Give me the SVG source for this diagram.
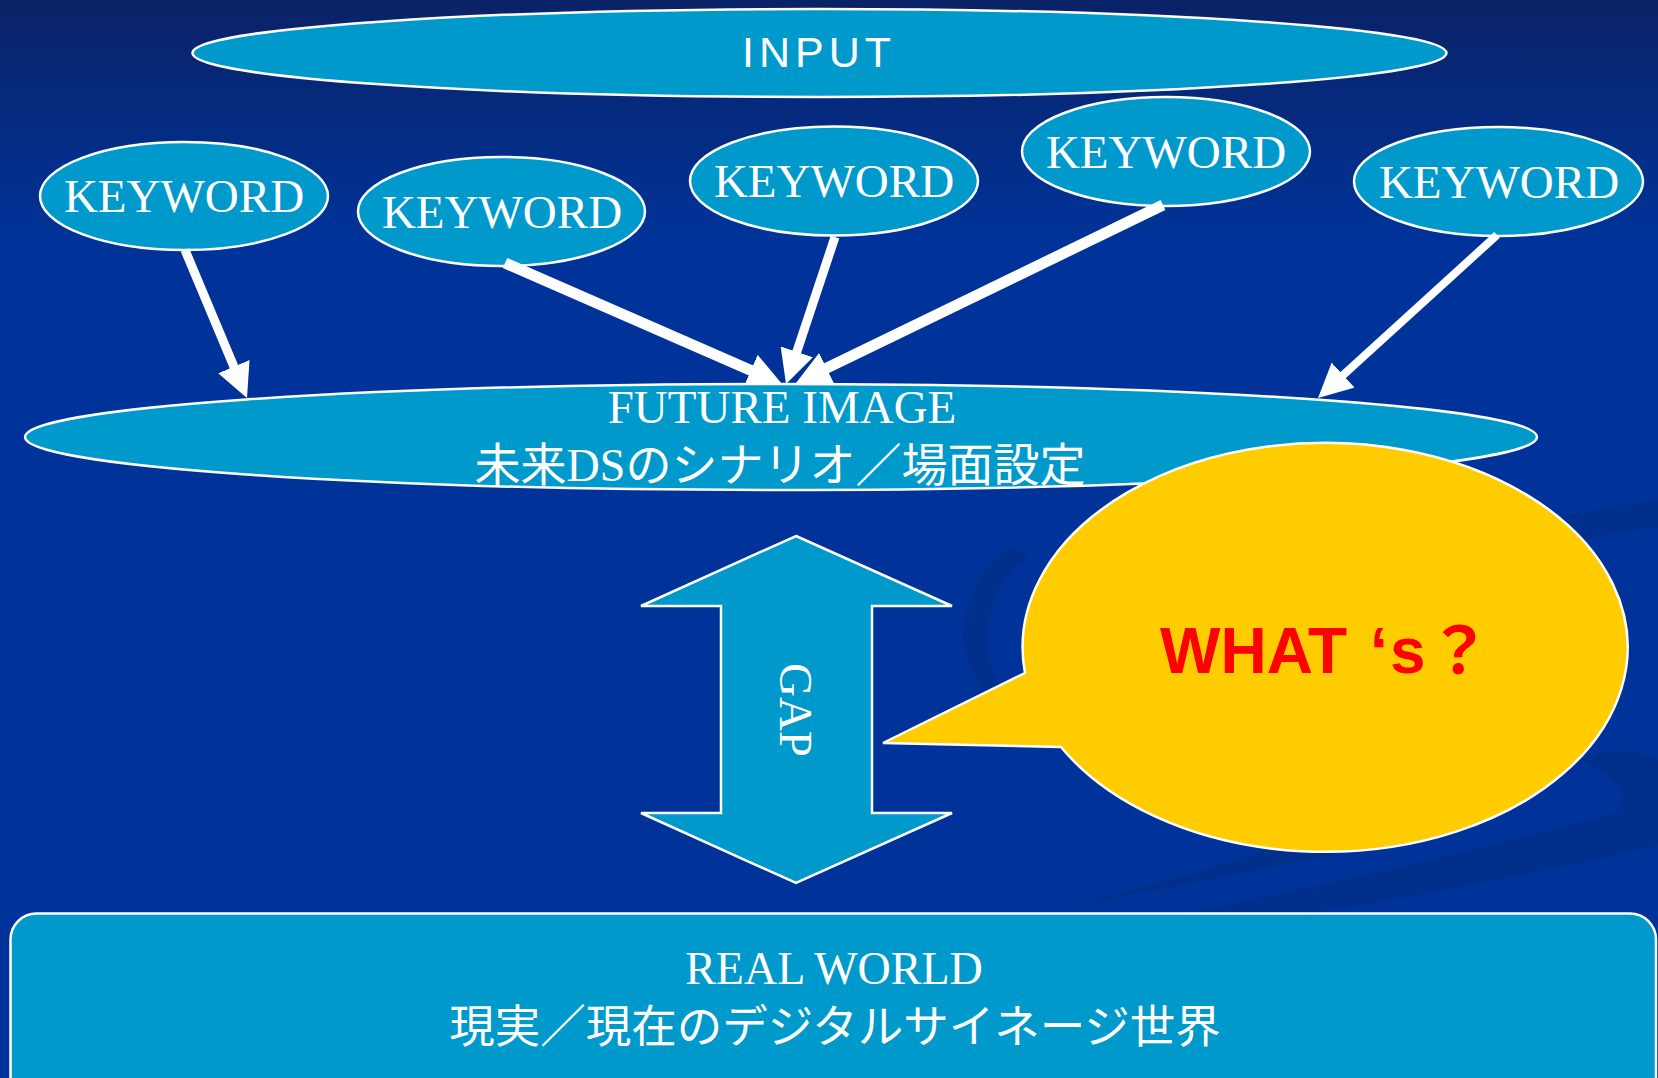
<svg xmlns="http://www.w3.org/2000/svg" width="1658" height="1078" viewBox="0 0 1658 1078">
  <defs>
    <linearGradient id="bg" x1="0" y1="0" x2="0" y2="1">
      <stop offset="0" stop-color="#0a2266"/>
      <stop offset="0.22" stop-color="#003399"/>
      <stop offset="1" stop-color="#003399"/>
    </linearGradient>
    <marker id="head" viewBox="0 0 34 34" markerWidth="34" markerHeight="34" refX="4" refY="17" orient="auto" markerUnits="userSpaceOnUse">
      <path d="M0,0 L34,17 L0,34 Z" fill="#ffffff"/>
    </marker>
    <style>
      .node { fill: #0099cc; stroke: #ffffff; stroke-width: 2.5; }
      .serif { font-family: "Liberation Serif", "Noto Sans CJK JP", serif; fill: #ffffff; text-anchor: middle; }
      .jp { font-family: "Noto Sans CJK JP", sans-serif; fill: #ffffff; text-anchor: middle; }
      .kw { font-size: 47px; }
      .conn { stroke: #ffffff; fill: none; marker-end: url(#head); }
      .swoosh { fill: #00308c; }
    </style>
  </defs>

  <rect x="0" y="0" width="1658" height="1078" fill="url(#bg)"/>
  <g id="background-swooshes">
    <path class="swoosh" d="M1010,548 C960,580 945,650 990,700 L1005,695 C975,650 985,585 1030,555 Z"/>
    <path class="swoosh" d="M1040,914 C1200,880 1330,860 1420,830 C1460,815 1470,800 1440,795 C1300,840 1180,880 1040,914 Z"/>
    <path class="swoosh" d="M1180,914 C1400,870 1560,830 1658,800 L1658,845 C1560,870 1400,900 1300,914 Z"/>
    <path class="swoosh" d="M1560,518 C1600,508 1635,502 1658,500 L1658,528 C1630,530 1595,536 1562,545 Z"/>
    <path class="swoosh" d="M1580,760 C1620,780 1640,800 1600,830 C1630,825 1650,815 1658,800 L1658,760 C1640,750 1610,745 1580,760 Z"/>
  </g>

  <g id="input">
    <ellipse class="node" cx="819.5" cy="53" rx="627" ry="44"/>
    <text x="819" y="67" font-family="'Liberation Sans', sans-serif" font-size="43" letter-spacing="5" fill="#ffffff" text-anchor="middle">INPUT</text>
  </g>

  <g id="keyword1">
    <ellipse class="node" cx="184" cy="196" rx="144" ry="54"/>
    <text class="serif kw" x="184" y="212">KEYWORD</text>
  </g>
  <g id="keyword2">
    <ellipse class="node" cx="501.5" cy="211.5" rx="143.5" ry="54.5"/>
    <text class="serif kw" x="502" y="228">KEYWORD</text>
  </g>
  <g id="keyword3">
    <ellipse class="node" cx="834" cy="181" rx="144" ry="54.5"/>
    <text class="serif kw" x="834" y="197">KEYWORD</text>
  </g>
  <g id="keyword4">
    <ellipse class="node" cx="1166" cy="151.5" rx="144" ry="54.5"/>
    <text class="serif kw" x="1166" y="168">KEYWORD</text>
  </g>
  <g id="keyword5">
    <ellipse class="node" cx="1498.5" cy="181.5" rx="144.5" ry="54.5"/>
    <text class="serif kw" x="1499" y="198">KEYWORD</text>
  </g>

  <g id="connectors">
    <line class="conn" x1="185" y1="250" x2="235.4" y2="370.3" stroke-width="9"/>
    <line class="conn" x1="505" y1="263" x2="754.5" y2="372" stroke-width="11"/>
    <line class="conn" x1="835" y1="237" x2="795.5" y2="355.6" stroke-width="9"/>
    <line class="conn" x1="1163" y1="205" x2="823" y2="369.9" stroke-width="11"/>
    <line class="conn" x1="1497" y1="235" x2="1340.2" y2="377.8" stroke-width="8"/>
  </g>

  <g id="future-image">
    <ellipse class="node" cx="781" cy="437" rx="756" ry="53"/>
    <text class="serif" x="782" y="423" font-size="47">FUTURE IMAGE</text>
    <text class="serif" x="780" y="481" font-size="46">未来DSのシナリオ／場面設定</text>
  </g>

  <g id="whats-callout">
    <path d="M1025,673 L883,743 L1061,747 A302.5,204.5 0 1 0 1025,673 Z" fill="#ffcc00" stroke="#ffffff" stroke-width="2.5"/>
    <text font-family="'Liberation Sans', 'Noto Sans CJK JP', sans-serif" font-weight="bold" font-size="64" fill="#ff0000" y="673"><tspan x="1160">WHAT</tspan><tspan x="1370">‘</tspan><tspan x="1390">s</tspan><tspan x="1427">？</tspan></text>
  </g>

  <g id="gap">
    <polygon class="node" stroke-width="3" points="796,536 952,606 872,606 872,813 952,813 796,883 641,813 721,813 721,606 641,606"/>
    <text class="serif" font-size="47" transform="translate(796,710) rotate(90)" x="0" y="16">GAP</text>
  </g>

  <g id="real-world">
    <rect class="node" x="10.5" y="913.5" width="1645.5" height="200" rx="26" ry="26"/>
    <text class="serif" x="834" y="984" font-size="46">REAL WORLD</text>
    <text class="jp" x="835" y="1043" font-size="45.5">現実／現在のデジタルサイネージ世界</text>
  </g>
</svg>
